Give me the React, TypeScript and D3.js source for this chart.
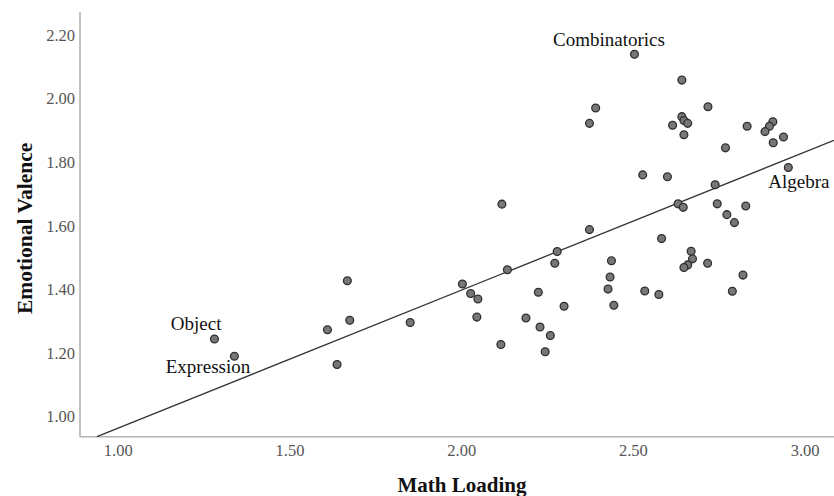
import React from "react";
import * as d3 from "d3";

// Data
const mathLoading: number[] = [
  1.28, 1.338, 1.609, 1.674, 1.637, 1.667, 1.85, 2.002, 2.026, 2.047, 2.044, 2.114,
  2.117, 2.133, 2.187, 2.223, 2.228, 2.243, 2.258, 2.271, 2.278, 2.298, 2.372, 2.372,
  2.39, 2.426, 2.432, 2.436, 2.443, 2.503, 2.527, 2.533, 2.574, 2.582, 2.599, 2.614,
  2.63, 2.641, 2.641, 2.645, 2.647, 2.658, 2.647, 2.668, 2.672, 2.658, 2.647, 2.717,
  2.716, 2.738, 2.744, 2.768, 2.772, 2.794, 2.827, 2.819, 2.788, 2.831, 2.906, 2.896,
  2.883, 2.937, 2.907, 2.951,
];
const emotionalValence: number[] = [
  1.244, 1.19, 1.273, 1.303, 1.164, 1.427, 1.296, 1.417, 1.387, 1.37, 1.313, 1.227,
  1.668, 1.462, 1.31, 1.391, 1.282, 1.204, 1.255, 1.482, 1.519, 1.347, 1.588, 1.922,
  1.97, 1.401, 1.439, 1.49, 1.35, 2.139, 1.76, 1.395, 1.384, 1.56, 1.754, 1.916,
  1.669, 2.058, 1.943, 1.658, 1.931, 1.922, 1.886, 1.52, 1.496, 1.477, 1.469, 1.974,
  1.482, 1.729, 1.669, 1.845, 1.635, 1.61, 1.662, 1.445, 1.394, 1.913, 1.927, 1.913,
  1.896, 1.879, 1.861, 1.783,
];
const labelNames: string[] = ["Object", "Expression", "Combinatorics", "Algebra"];
const labelPointIndex: number[] = [0, 1, 29, 63];
const xTicks: number[] = [1.0, 1.5, 2.0, 2.5, 3.0];
const yTicks: number[] = [1.0, 1.2, 1.4, 1.6, 1.8, 2.0, 2.2];
const xDomain: number[] = [0.8885, 3.084];
const yDomain: number[] = [0.937, 2.272];
const fitIntercept = 0.53;
const fitSlope = 0.434;

// Layout
const W = 834;
const H = 496;
const left = 80;
const right = 834;
const top = 12;
const bottom = 436.7;

const labelOffsets: Record<string, { dx: number; dy: number; anchor: string }> = {
  Object: { dx: -43.6, dy: -9, anchor: "start" },
  Expression: { dx: -68.6, dy: 17, anchor: "start" },
  Combinatorics: { dx: -25.5, dy: -8, anchor: "middle" },
  Algebra: { dx: -20, dy: 20.5, anchor: "start" },
};

export default function App() {
  const x = d3.scaleLinear().domain(xDomain).range([left, right]);
  const y = d3.scaleLinear().domain(yDomain).range([bottom, top]);

  const x0 = Math.max(xDomain[0], (yDomain[0] - fitIntercept) / fitSlope);
  const x1 = Math.min(xDomain[1], (yDomain[1] - fitIntercept) / fitSlope);
  const line = d3
    .line<number>()
    .x((d) => x(d))
    .y((d) => y(fitIntercept + fitSlope * d));

  const fmt = d3.format(".2f");
  const serif = "'Liberation Serif', 'Times New Roman', serif";

  return (
    <svg
      width={W}
      height={H}
      style={{ position: "absolute", left: 0, top: 0, background: "#fff" }}
      fontFamily={serif}
    >
      <rect width={W} height={H} fill="#fff" />
      {/* axes */}
      <line x1={left} x2={left} y1={top} y2={bottom} stroke="#b4b4b4" strokeWidth={1.6} />
      <line x1={left} x2={right} y1={bottom} y2={bottom} stroke="#b4b4b4" strokeWidth={1.6} />
      {yTicks.map((t) => (
        <text
          key={"y" + t}
          x={left - 5}
          y={y(t)}
          dy="0.35em"
          textAnchor="end"
          fontSize={16.5}
          fill="#555"
        >
          {fmt(t)}
        </text>
      ))}
      {xTicks.map((t) => (
        <text
          key={"x" + t}
          x={x(t)}
          y={bottom + 14}
          dy="0.35em"
          textAnchor="middle"
          fontSize={16.5}
          fill="#555"
        >
          {fmt(t)}
        </text>
      ))}
      {/* fit line */}
      <path d={line([x0, x1]) || ""} fill="none" stroke="#333" strokeWidth={1.3} />
      {/* points */}
      {mathLoading.map((mx, i) => (
        <circle
          key={i}
          cx={x(mx)}
          cy={y(emotionalValence[i])}
          r={3.9}
          fill="#777"
          stroke="#2e2e2e"
          strokeWidth={1.3}
        />
      ))}
      {/* labels */}
      {labelNames.map((name, k) => {
        const i = labelPointIndex[k];
        const o = labelOffsets[name];
        return (
          <text
            key={name}
            x={x(mathLoading[i]) + o.dx}
            y={y(emotionalValence[i]) + o.dy}
            textAnchor={o.anchor}
            fontSize={19}
            fill="#111"
          >
            {name}
          </text>
        );
      })}
      {/* axis titles */}
      <text
        x={462}
        y={492}
        textAnchor="middle"
        fontSize={21}
        fontWeight="bold"
        fill="#111"
      >
        Math Loading
      </text>
      <text
        transform={`translate(32, ${(top + bottom) / 2 + 4}) rotate(-90)`}
        textAnchor="middle"
        fontSize={21.5}
        fontWeight="bold"
        fill="#111"
      >
        Emotional Valence
      </text>
    </svg>
  );
}
